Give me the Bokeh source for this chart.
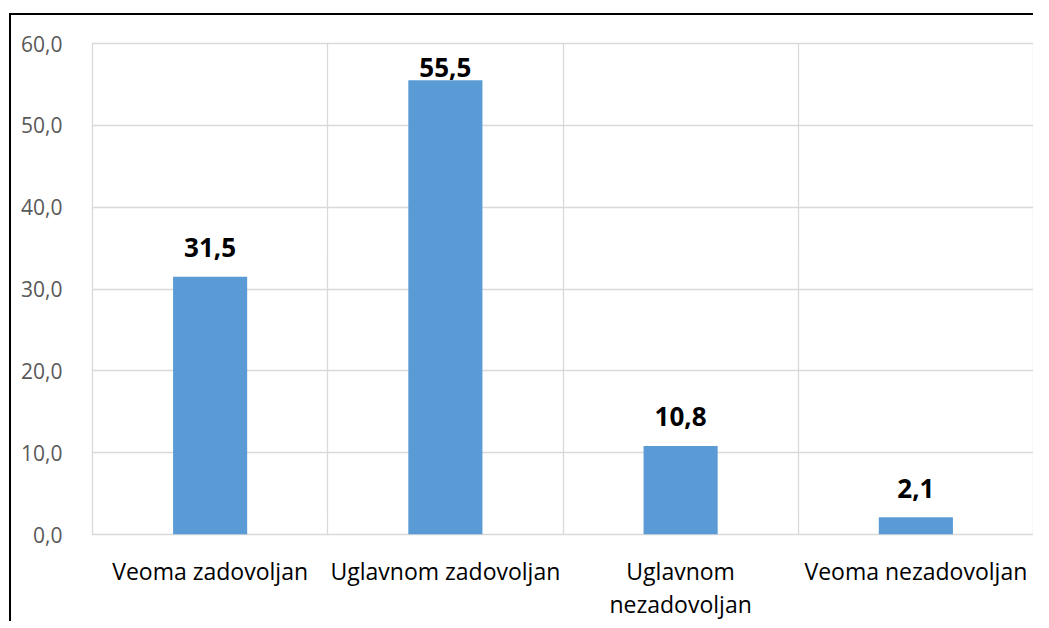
from bokeh.plotting import figure
from bokeh.models import ColumnDataSource, FixedTicker, Range1d, LabelSet
from bokeh.core.properties import value
from bokeh.embed import file_html
from bokeh.resources import INLINE
import numpy as np

categories = ["Veoma zadovoljan", "Uglavnom zadovoljan", "Uglavnom\nnezadovoljan", "Veoma nezadovoljan"]
values = [31.5, 55.5, 10.8, 2.1]
y_ticks = [0, 10, 20, 30, 40, 50, 60]
y_tick_labels = ["0,0", "10,0", "20,0", "30,0", "40,0", "50,0", "60,0"]

FONT = "Open Sans"
x = np.arange(len(categories)) + 0.5
vals = np.array(values, dtype=float)
label_y = np.minimum(vals + 2.4, 55.9)
labels = [f"{v:.1f}".replace(".", ",") for v in values]

src = ColumnDataSource(dict(x=x, top=vals, ly=label_y, lab=labels))

p = figure(width=1024, height=608, output_backend="svg", toolbar_location=None,
           x_range=Range1d(0, len(categories)), y_range=Range1d(0, 60),
           min_border_left=81, min_border_right=2, min_border_top=28, min_border_bottom=89,
           styles={"border-left": "2px solid black", "border-top": "2px solid black",
                   "margin-top": "13px", "margin-left": "9px"})
p.background_fill_color = "white"
p.border_fill_color = "white"
p.outline_line_color = "#d9d9d9"
p.outline_line_width = 1.3

p.vbar(x="x", top="top", width=0.315, bottom=0, source=src,
       fill_color="#5B9BD5", line_color=None)

p.add_layout(LabelSet(x="x", y="ly", text="lab", source=src, text_align="center",
                      text_baseline="alphabetic", text_font=value(FONT), text_font_style="bold",
                      text_font_size="26px", text_color="black"))

# y axis
p.yaxis.ticker = FixedTicker(ticks=y_ticks)
p.yaxis.major_label_overrides = {t: l for t, l in zip(y_ticks, y_tick_labels)}
p.yaxis.axis_line_color = None
p.yaxis.major_tick_line_color = None
p.yaxis.minor_tick_line_color = None
p.yaxis.major_label_text_font = FONT
p.yaxis.major_label_text_font_size = "21px"
p.yaxis.major_label_text_color = "#595959"
p.yaxis.major_label_standoff = 24

# x axis
p.xaxis.ticker = FixedTicker(ticks=list(x))
p.xaxis.major_label_overrides = {float(t): c for t, c in zip(x, categories)}
p.xaxis.axis_line_color = None
p.xaxis.major_tick_line_color = None
p.xaxis.minor_tick_line_color = None
p.xaxis.major_label_text_font = FONT
p.xaxis.major_label_text_font_size = "23px"
p.xaxis.major_label_text_color = "black"
p.xaxis.major_label_text_line_height = 1.05
p.xaxis.major_label_standoff = 14

p.xgrid.ticker = FixedTicker(ticks=list(range(len(categories) + 1)))
p.xgrid.grid_line_color = "#d9d9d9"
p.xgrid.grid_line_width = 1.3
p.ygrid.grid_line_color = "#d9d9d9"
p.ygrid.grid_line_width = 1.3

open("out.html", "w").write(file_html(p, INLINE))
